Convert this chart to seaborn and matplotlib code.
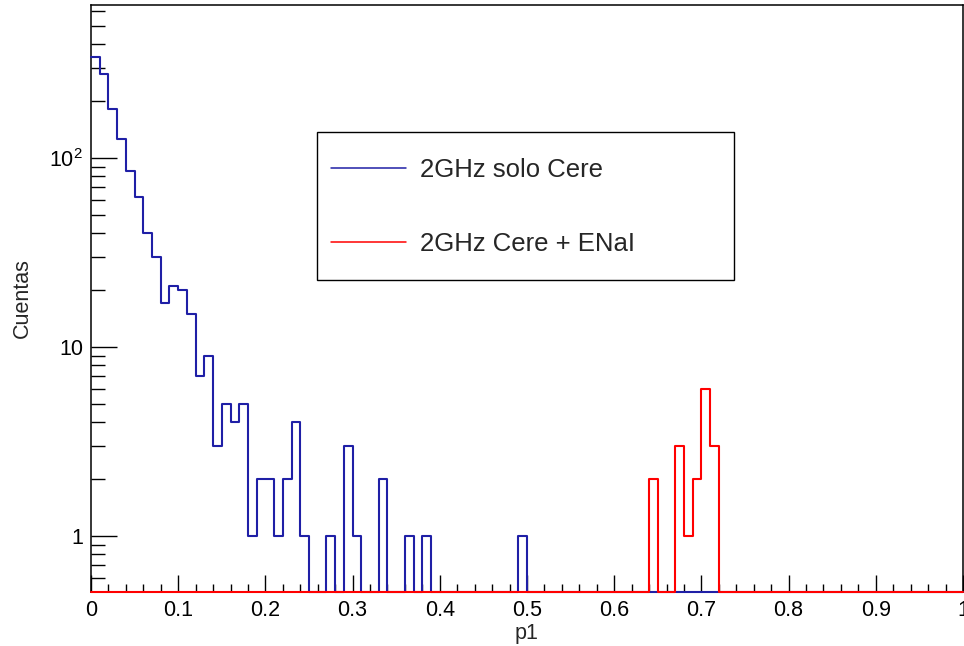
import numpy as np
import pandas as pd
import matplotlib
matplotlib.use("Agg")
import matplotlib.pyplot as plt
from matplotlib.ticker import LogLocator, NullFormatter, FixedLocator, MultipleLocator
from matplotlib.legend_handler import HandlerLine2D
import seaborn as sns

# Histogram binning: 100 bins of width 0.01 on p1 in [0, 1]
n_bins = 100
p1_range = (0.0, 1.0)

# Counts per bin for "2GHz solo Cere" (bins 0..49; the remaining bins are empty)
solo_counts_head = [341, 278, 182, 126, 85, 62, 40, 30, 17, 21,
                    20, 15, 7, 9, 3, 5, 4, 5, 1, 2,
                    2, 1, 2, 4, 1, 0, 0, 1, 0, 3,
                    1, 0, 0, 2, 0, 0, 1, 0, 1, 0,
                    0, 0, 0, 0, 0, 0, 0, 0, 0, 1]

# Non-empty bins for "2GHz Cere + ENaI"
enai_bins = [64, 67, 68, 69, 70, 71]
enai_bin_counts = [2, 3, 1, 2, 6, 3]

series_labels = ["2GHz solo Cere", "2GHz Cere + ENaI"]
series_colors = ["#1f1fa6", "#ff0000"]

x_ticks = [0.0, 0.1, 0.2, 0.3, 0.4, 0.5, 0.6, 0.7, 0.8, 0.9, 1.0]
x_tick_labels = ["0", "0.1", "0.2", "0.3", "0.4", "0.5", "0.6", "0.7", "0.8", "0.9", "1"]
y_ticks = [1, 10, 100]
y_tick_labels = ["1", "10", "$10^{2}$"]

x_title = "p1"
y_title = "Cuentas"

# Full per-bin arrays
bin_edges = np.linspace(p1_range[0], p1_range[1], n_bins + 1)
solo_counts = np.zeros(n_bins)
solo_counts[:len(solo_counts_head)] = solo_counts_head
enai_counts = np.zeros(n_bins)
enai_counts[enai_bins] = enai_bin_counts

y_low, y_high = 0.505, 645.0


class LoweredLine(HandlerLine2D):
    """Legend line sample drawn a little lower in its box, level with the text."""

    def create_artists(self, legend, orig_handle, xdescent, ydescent,
                       width, height, fontsize, trans):
        artists = super().create_artists(legend, orig_handle, xdescent, ydescent,
                                         width, height, fontsize, trans)
        for a in artists:
            a.set_ydata(np.asarray(a.get_ydata(), dtype=float) - 0.24 * fontsize)
        return artists


sns.set_style("white")
plt.rcParams["font.family"] = ["Liberation Sans", "DejaVu Sans"]
plt.rcParams["mathtext.fontset"] = "custom"
plt.rcParams["mathtext.rm"] = "Liberation Sans"
plt.rcParams["mathtext.it"] = "Liberation Sans:italic"

fig = plt.figure(figsize=(9.64, 6.46), dpi=100)
ax = fig.add_axes([91 / 964, 54 / 646, 872 / 964, 587 / 646])

centers = 0.5 * (bin_edges[:-1] + bin_edges[1:])
# Empty bins sit on the lower edge of the frame, as in ROOT's log display
df = pd.DataFrame({
    "p1": np.concatenate([centers, centers]),
    "heights": np.concatenate([np.maximum(solo_counts, y_low),
                               np.maximum(enai_counts, y_low)]),
    "series": [series_labels[0]] * n_bins + [series_labels[1]] * n_bins,
})

for label, color in zip(series_labels, series_colors):
    sub = df[df["series"] == label]
    sns.histplot(data=sub, x="p1", weights="heights", bins=n_bins,
                 binrange=p1_range, element="step", fill=False, color=color,
                 linewidth=1.5, label=label, ax=ax, clip_on=False, zorder=3)

ax.set_yscale("log")
ax.set_xlim(*p1_range)
ax.set_ylim(y_low, y_high)

ax.set_xticks(x_ticks)
ax.set_xticklabels(x_tick_labels)
ax.xaxis.set_minor_locator(MultipleLocator(0.02))
ax.yaxis.set_major_locator(FixedLocator(y_ticks))
ax.set_yticklabels(y_tick_labels)
ax.yaxis.set_minor_locator(LogLocator(base=10, subs=np.arange(2, 10), numticks=50))
ax.yaxis.set_minor_formatter(NullFormatter())

ax.tick_params(axis="both", which="both", direction="in", top=False, right=False,
               bottom=True, left=True, colors="black", labelsize=15.5, width=1.0)
ax.tick_params(axis="x", which="major", length=12.2, pad=6)
ax.tick_params(axis="x", which="minor", length=5.8)
ax.tick_params(axis="y", which="major", length=18.7, pad=5.8)
ax.tick_params(axis="y", which="minor", length=10)

for sp in ax.spines.values():
    sp.set_visible(True)
    sp.set_color("black")
    sp.set_linewidth(1.1)

ax.set_xlabel(x_title, fontsize=15.5, labelpad=1)
ax.set_ylabel(y_title, fontsize=15.5, labelpad=12)

handles, labels = ax.get_legend_handles_labels()
leg = ax.legend(handles, labels, loc="upper left",
                bbox_to_anchor=(0.2595, 0.533, 0.4779, 0.25),
                mode="expand", borderaxespad=0, fontsize=18.5, frameon=True,
                fancybox=False, edgecolor="black", framealpha=1,
                borderpad=0.533, handleheight=2.42, labelspacing=1.05,
                handlelength=2.92, handletextpad=0.54,
                handler_map={h: LoweredLine() for h in handles})
leg.get_frame().set_linewidth(1.0)
for ln in leg.get_lines():
    ln.set_linewidth(1.1)

fig.savefig("out.png", dpi=100)
